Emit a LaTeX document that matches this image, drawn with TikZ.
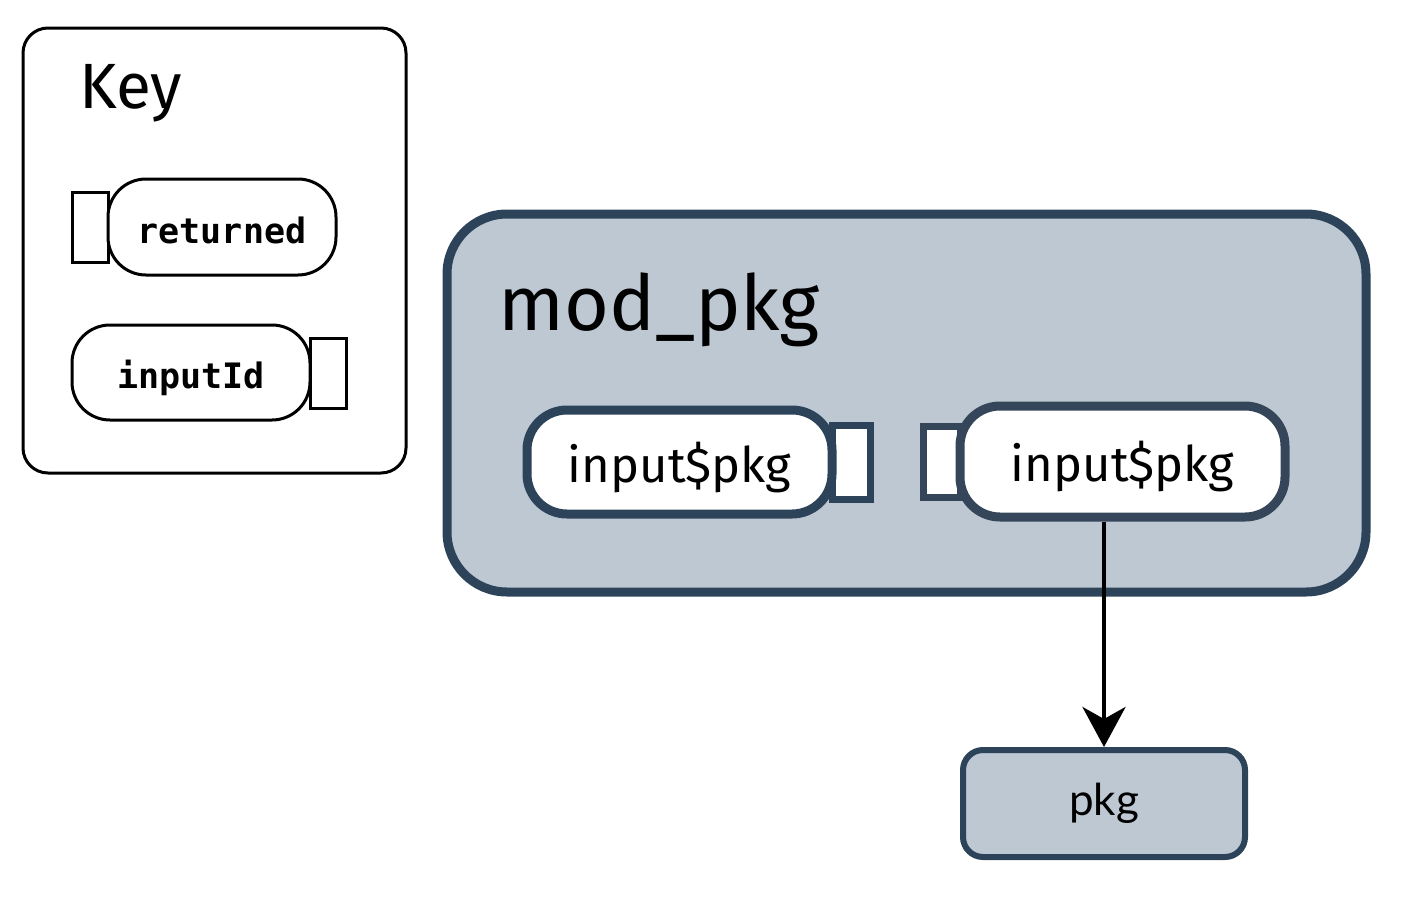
\documentclass[tikz,border=0pt]{standalone}
\usepackage{fontspec}
\setmainfont{Fira Sans}
\newfontfamily\monof{DejaVu Sans Mono}
\newfontfamily\latof{Lato}
\usetikzlibrary{arrows.meta}
\definecolor{dk}{HTML}{2C435A}
\definecolor{dk2}{HTML}{36465A}
\definecolor{lt}{HTML}{BDC8D3}
\tikzset{
  keybox/.style={draw=black, line width=3pt, rounded corners=25pt, fill=white},
  keypill/.style={draw=black, line width=3pt, rounded corners=38pt, fill=white, inner sep=0pt,
    font=\monof\bfseries\fontsize{35}{38}\selectfont, text height=34pt, text depth=2pt},
  keyport/.style={draw=black, line width=3pt, fill=white, inner sep=0pt},
  modbox/.style={draw=dk, line width=9pt, rounded corners=60pt, fill=lt},
  pill/.style={line width=9pt, rounded corners=40pt, fill=white, inner sep=0pt,
    font=\fontsize{49}{52}\selectfont, text height=42pt, text depth=2pt},
  port/.style={line width=7pt, fill=white, inner sep=0pt},
  outbox/.style={draw=dk, line width=6pt, rounded corners=20pt, fill=lt, inner sep=0pt, font=\latof\fontsize{44}{48}\selectfont},
  conn/.style={draw=black, line width=4.5pt, -{Stealth[length=40pt, width=43pt, inset=12pt]}}
}
\begin{document}
\begin{tikzpicture}[x=1pt,y=-1pt]
\useasboundingbox (0,0) rectangle (1408,902);
% Key
\draw[keybox] (23,28) rectangle (406,473);
\node[anchor=base west, inner sep=0pt, font=\fontsize{64}{68}\selectfont] (keytitle) at (79,108) {Key};
\node[keyport, minimum width=36pt, minimum height=70pt] (kp1) at (90,227) {};
\node[keypill, minimum width=228pt, minimum height=96pt] (kret) at (222,227) {returned};
\node[keypill, minimum width=238pt, minimum height=95pt] (kin) at (191,372.5) {inputId};
\node[keyport, minimum width=36pt, minimum height=70pt] (kp2) at (328,373) {};
% mod_pkg
\draw[modbox] (447,214) rectangle (1366,592);
\node[anchor=base west, inner sep=0pt, font=\fontsize{77}{80}\selectfont] (modt) at (498,330) {mod\_pkg};
\node[port, draw=dk, minimum width=38pt, minimum height=74pt] (lport) at (851,462) {};
\node[pill, draw=dk, minimum width=305pt, minimum height=104pt] (lin) at (679.5,462) {input\$pkg};
\node[port, draw=dk2, minimum width=37pt, minimum height=71pt] (rport) at (941.5,461.5) {};
\node[pill, draw=dk2, minimum width=325pt, minimum height=111pt] (rin) at (1122.5,461.5) {input\$pkg};
% pkg
\node[outbox, minimum width=282pt, minimum height=107pt] (pkg) at (1104,803.5) {pkg};
\draw[conn] (pkg.north |- rin.south) -- (pkg.north);
\end{tikzpicture}
\end{document}
